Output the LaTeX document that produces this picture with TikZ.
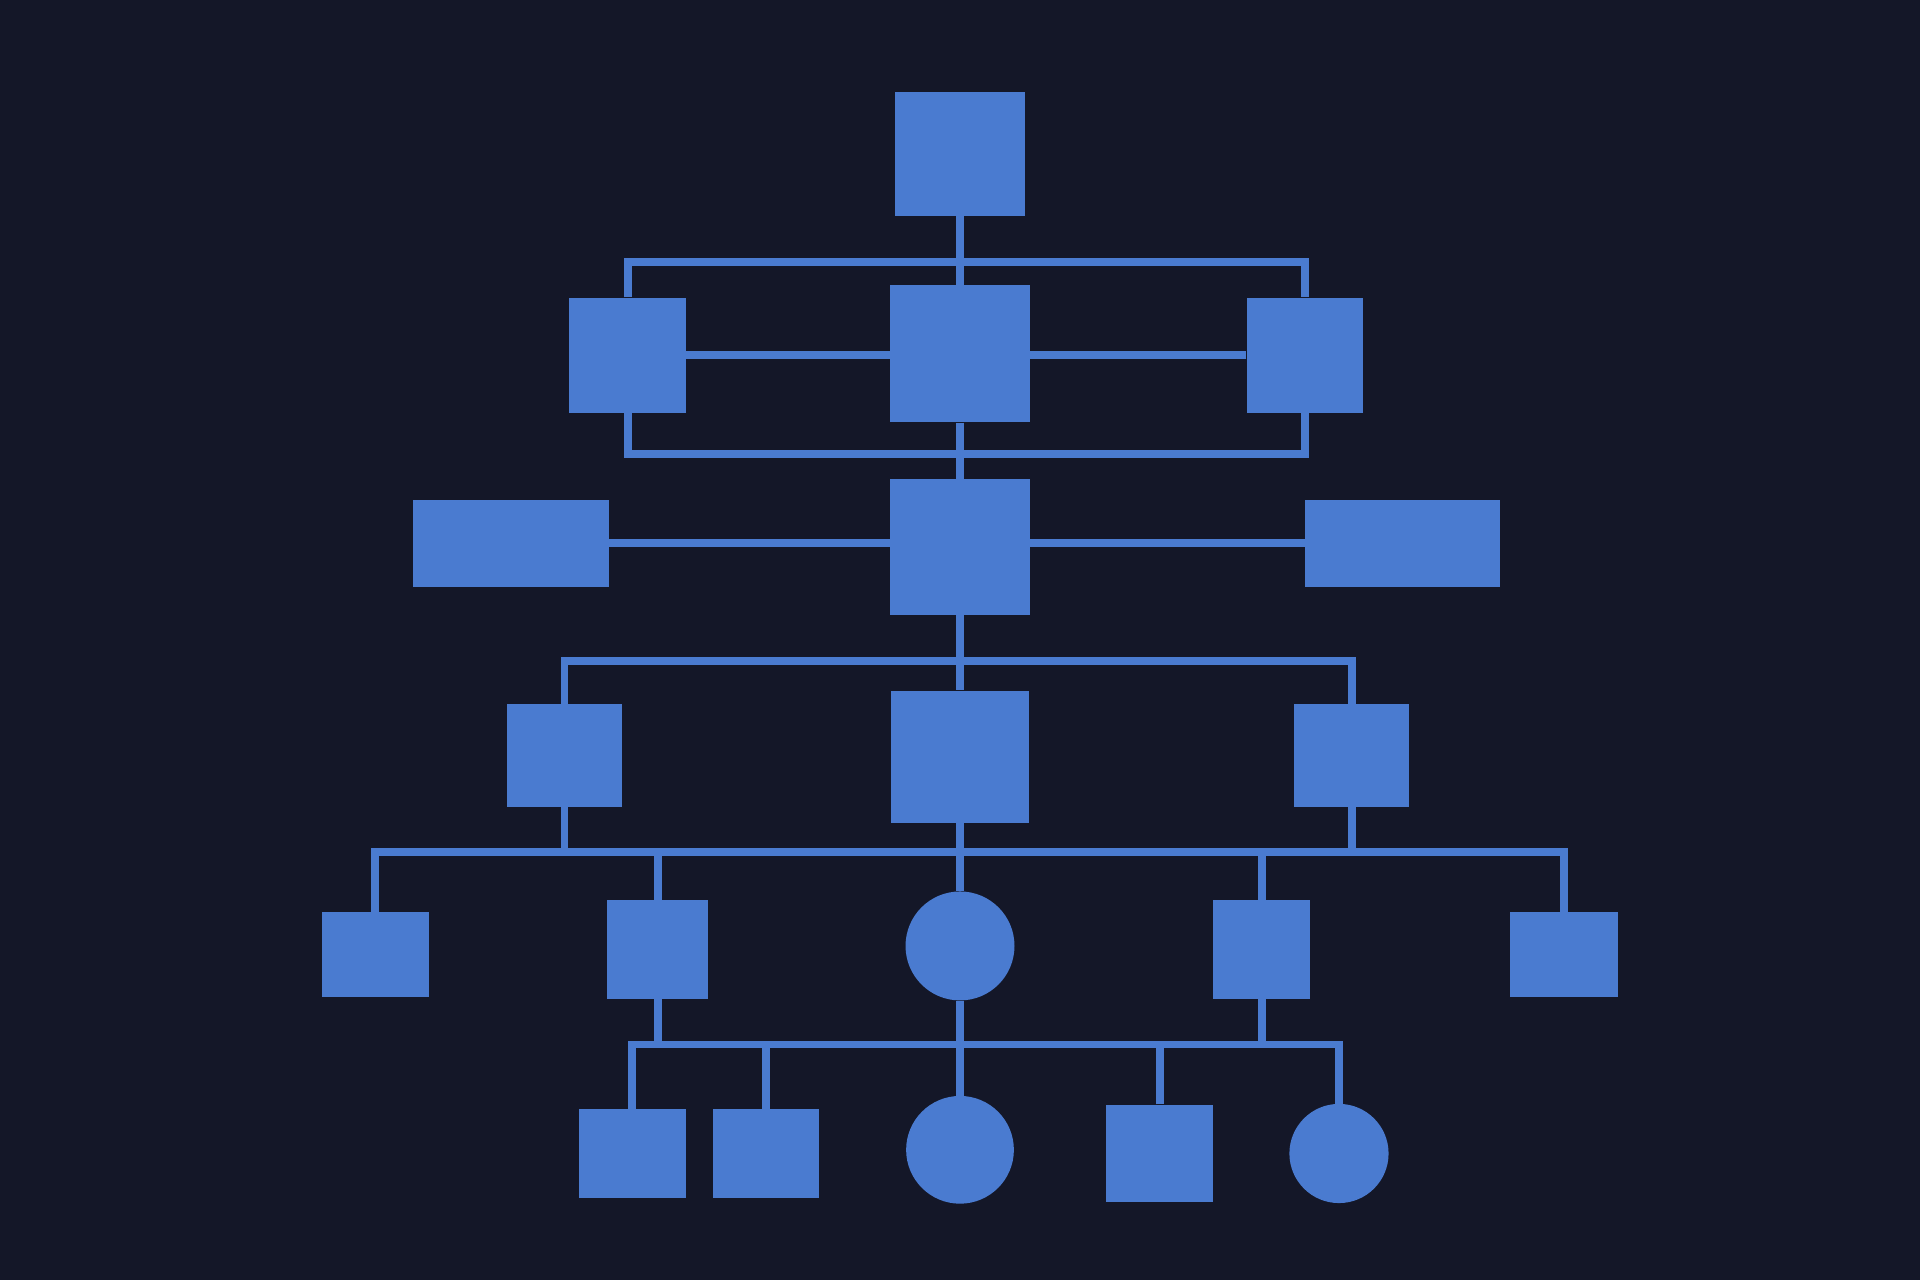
\documentclass[tikz,border=0pt]{standalone}
\usetikzlibrary{positioning}
\definecolor{bgColour}{RGB}{20,23,40}
\definecolor{cellColour}{RGB}{74,123,208}
\tikzset{
  cell/.style 2 args={rectangle, fill=cellColour, inner sep=0pt, minimum width=#1, minimum height=#2},
  ring/.style={circle, fill=cellColour, inner sep=0pt, minimum size=#1},
  wire/.style={draw=cellColour, line width=6.5pt}
}
\begin{document}
\begin{tikzpicture}[x=1pt, y=-1pt]
		% the background
		\fill[bgColour] (0, 0) rectangle (1568, 1045);
		\useasboundingbox (0, 0) rectangle (1568, 1045);

		% the bus points
		\coordinate (busA) at (784, 214);
		\coordinate (busB) at (784, 371);
		\coordinate (busC) at (784, 540);
		\coordinate (busD) at (784, 696);
		\coordinate (busE) at (784, 853);

		% the cells
		\node[cell={106pt}{101pt}] (top) at (784, 125.5) {};
		\node[cell={95pt}{94pt}] (midL) at (512.5, 290) {};
		\node[cell={114pt}{112pt}] (mid) at (784, 289) {};
		\node[cell={95pt}{94pt}] (midR) at (1065.5, 290) {};
		\node[cell={160pt}{71pt}] (wideL) at (417, 443.5) {};
		\node[cell={114pt}{111pt}] (core) at (784, 446.5) {};
		\node[cell={159pt}{71pt}] (wideR) at (1145.5, 443.5) {};
		\node[cell={94pt}{84pt}] (lowL) at (461, 617) {};
		\node[cell={113pt}{108pt}] (low) at (784, 618) {};
		\node[cell={94pt}{84pt}] (lowR) at (1104, 617) {};
		\node[cell={87pt}{69pt}] (leafA) at (306.5, 779.5) {};
		\node[cell={82pt}{81pt}] (leafB) at (537, 775.5) {};
		\node[ring=89pt] (hub) at (784, 772.5) {};
		\node[cell={79pt}{81pt}] (leafD) at (1030.5, 775.5) {};
		\node[cell={88pt}{69pt}] (leafE) at (1277, 779.5) {};
		\node[cell={87pt}{72pt}] (footA) at (516.5, 942) {};
		\node[cell={87pt}{72pt}] (footB) at (625.5, 942) {};
		\node[ring=88pt] (footC) at (784, 939) {};
		\node[cell={88pt}{80pt}] (footD) at (947, 942) {};
		\node[ring=81pt] (footE) at (1093.5, 942) {};

		% first level
		\draw[wire] (top.south) -- (mid.north);
		\draw[wire] (midL.north) |- (busA) -| (midR.north);
		\draw[wire] (midL.east) -- (midL.east -| mid.west);
		\draw[wire] (midR.west) -- (midR.west -| mid.east);
		\draw[wire] (midL.south) |- (busB) -| (midR.south);
		\draw[wire] (mid.south) -- (core.north);

		% second level
		\draw[wire] (wideL.east) -- (wideL.east -| core.west);
		\draw[wire] (wideR.west) -- (wideR.west -| core.east);
		\draw[wire] (core.south) -- (low.north);
		\draw[wire] (lowL.north) |- (busC) -| (lowR.north);

		% third level
		\draw[wire] (leafA.north) |- (busD) -| (leafE.north);
		\draw[wire] (lowL.south) -- (lowL.south |- busD);
		\draw[wire] (lowR.south) -- (lowR.south |- busD);
		\draw[wire] (leafB.north) -- (leafB.north |- busD);
		\draw[wire] (leafD.north) -- (leafD.north |- busD);
		\draw[wire] (low.south) -- (hub.north);

		% last level
		\draw[wire] (footA.north) |- (busE) -| (footE.north);
		\draw[wire] (leafB.south) -- (leafB.south |- busE);
		\draw[wire] (leafD.south) -- (leafD.south |- busE);
		\draw[wire] (footB.north) -- (footB.north |- busE);
		\draw[wire] (footD.north) -- (footD.north |- busE);
		\draw[wire] (hub.south) -- (footC.north);
	\end{tikzpicture}
\end{document}
